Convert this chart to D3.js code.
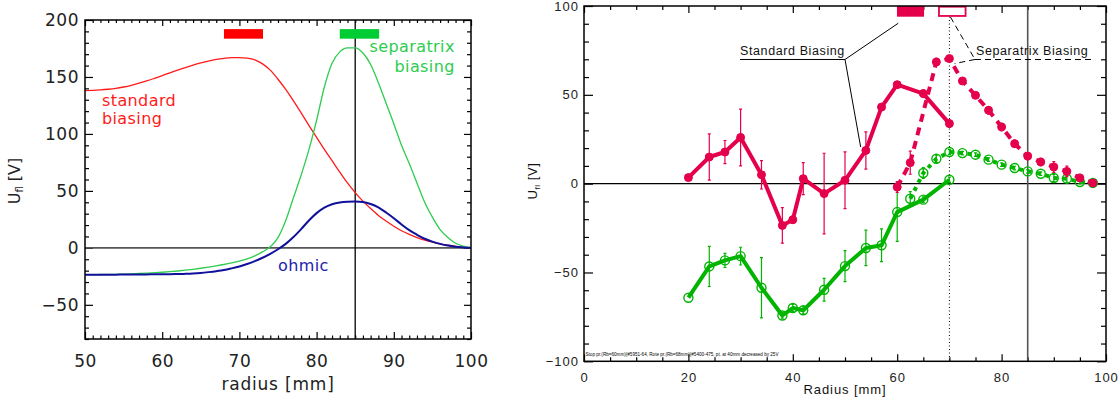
<!DOCTYPE html>
<html><head><meta charset="utf-8">
<script src="https://cdn.jsdelivr.net/npm/d3@7"></script>
<style>body{margin:0;background:#fff}svg{display:block}</style>
</head><body>
<svg id="c" width="1118" height="398"></svg>
<script>
// ---------------- LEFT PANEL DATA (model curves) ----------------
const radiusL = [50,51,52,53,54,55,56,57,58,59,60,61,62,63,64,65,66,67,68,69,70,71,72,73,74,75,76,77,78,79,80,81,82,83,84,85,86,87,88,89,90,91,92,93,94,95,96,97,98,99,100];
const standardL = [138,138.2,138.6,139.2,140,141.2,142.7,144.5,146.5,148.8,151.2,153.6,156,158.3,160.4,162.3,164,165.4,166.4,167,167,166.5,165,161.5,156,148,139,129,118.5,107.5,97,86.5,76.5,66.5,57,48.5,41,34.5,28.5,23.5,19,15,11.8,9,6.8,5,3.5,2.3,1.3,0.5,0];
const separatrixL = [-23.5,-23.5,-23.4,-23.3,-23.2,-23,-22.8,-22.5,-22.2,-21.8,-21.4,-20.9,-20.3,-19.6,-18.8,-17.9,-16.9,-15.8,-14.6,-13.2,-11.6,-9.6,-7,-3.5,1,9,24,44,64,86,112,141,162,172,175.5,175.5,171,161,145,127,109,90,74,57,40,27,16,9,4,1.5,0];
const ohmicL = [-23.5,-23.5,-23.5,-23.5,-23.5,-23.4,-23.4,-23.3,-23.3,-23.2,-23.2,-23.1,-23,-22.8,-22.5,-22,-21.3,-20.5,-19.5,-18,-16.3,-14.2,-11.7,-8.7,-5.2,-1.2,3.5,9.5,16.5,24,30.5,35.3,38.3,39.9,40.5,40.6,40.2,38.5,35.5,31,26,20.5,15.5,11.5,8,5.5,3.5,2,1,0.4,0];
const leftXTicks = [50,60,70,80,90,100];
const leftYTicks = [-50,0,50,100,150,200];
const leftBars = [{r0:68,r1:73.06,color:"#ff0000"},{r0:83,r1:88.1,color:"#00cc33"}];

// ---------------- RIGHT PANEL DATA (measurements) ----------------
const stdRadius = [20,24,27,30,34,38,40,42,46,50,54,57,60,65,70];
const stdRed    = [3.4,15,17.8,26,5,-23.5,-20.3,2.8,-5.6,1.9,18.7,43.1,55.7,50.7,33.8];
const stdRedErr = [0,13,6.5,16,8,10,2,9,22.7,16,10.5,1.5,1.5,2,2];
const stdGreen    = [-64.2,-46.6,-43.2,-40.8,-58.6,-74.2,-70,-71.3,-59.7,-46.4,-36.2,-34.7,-16,-9,2.2];
const stdGreenErr = [0,11.3,4,5,17,1.5,2,2,6.4,8.7,10,9.2,16.5,1.5,1.5];
const sepRedRadius = [60,62.5,67.5,70,72.5,75,77.5,80,82.5,85,87.5,90,92.5,95,97.5];
const sepRed    = [-1.9,11.8,68.5,70.4,57.8,49.7,41.3,31.9,22.5,15.5,12.2,9.4,6.9,3.2,0.4];
const sepRedErr = [3,6.5,2,1.5,1.5,1.5,2,2,2,2,2,3,3,2,1];
const sepGreenRadius = [62.5,65,67.5,70,72.5,75,77.5,80,82.5,85,87.5,90,92.5,95,97.5];
const sepGreen    = [-8.5,6,14,17.8,17.2,16.3,13.5,10.7,8.8,6.9,5.6,3.2,2.8,0.9,0.4];
const sepGreenErr = [4,3,2,1.5,1,1,1,1,1,1,1,2,2,1,1];
const rightXTicks = [0,20,40,60,80,100];
const rightYTicks = [-100,-50,0,50,100];

const svg = d3.select("#c");

function styleAxis(g, font, size, spacing){
  g.select(".domain").remove();
  g.attr("font-family", font).attr("font-size", size);
  g.selectAll("line").attr("stroke","#000").attr("stroke-width",1.2);
  g.selectAll("text").attr("fill","#222").attr("letter-spacing", spacing||0);
}

// ================= LEFT PANEL =================
const xL = d3.scaleLinear().domain([50,100]).range([85,471]);
const yL = d3.scaleLinear().domain([-80,200]).range([339,20]);
const LF = "DejaVu Sans";
const gL = svg.append("g");
svg.append("clipPath").attr("id","clipL").append("rect")
  .attr("x",xL(50)).attr("y",yL(200)).attr("width",xL(100)-xL(50)).attr("height",yL(-80)-yL(200));

const minorXL = d3.range(50,101,1).filter(v=>v%10!==0);
const minorYL = d3.range(-80,201,10).filter(v=>v%50!==0);
gL.append("g").attr("transform",`translate(0,${yL(-80)})`)
  .call(d3.axisBottom(xL).tickValues(leftXTicks).tickSize(-7).tickPadding(16).tickFormat(d3.format("d")))
  .call(g=>styleAxis(g,LF,17,0.5));
gL.append("g").attr("transform",`translate(0,${yL(-80)})`)
  .call(d3.axisBottom(xL).tickValues(minorXL).tickSize(-3.5).tickFormat(""))
  .call(g=>styleAxis(g,LF,17));
gL.append("g").attr("transform",`translate(0,${yL(200)})`)
  .call(d3.axisTop(xL).tickValues(leftXTicks).tickSize(-6).tickFormat(""))
  .call(g=>styleAxis(g,LF,17));
gL.append("g").attr("transform",`translate(0,${yL(200)})`)
  .call(d3.axisTop(xL).tickValues(minorXL).tickSize(-3).tickFormat(""))
  .call(g=>styleAxis(g,LF,17));
gL.append("g").attr("transform",`translate(${xL(50)},0)`)
  .call(d3.axisLeft(yL).tickValues(leftYTicks).tickSize(-8).tickPadding(6).tickFormat(d=>d<0?"\u2212"+Math.abs(d):d))
  .call(g=>styleAxis(g,LF,17,0.5));
gL.append("g").attr("transform",`translate(${xL(50)},0)`)
  .call(d3.axisLeft(yL).tickValues(minorYL).tickSize(-4).tickFormat(""))
  .call(g=>styleAxis(g,LF,17));
gL.append("g").attr("transform",`translate(${xL(100)},0)`)
  .call(d3.axisRight(yL).tickValues(leftYTicks).tickSize(-7).tickFormat(""))
  .call(g=>styleAxis(g,LF,17));
gL.append("g").attr("transform",`translate(${xL(100)},0)`)
  .call(d3.axisRight(yL).tickValues(minorYL).tickSize(-4).tickFormat(""))
  .call(g=>styleAxis(g,LF,17));

gL.append("line").attr("x1",xL(50)).attr("x2",xL(100)).attr("y1",yL(0)).attr("y2",yL(0))
  .attr("stroke","#555").attr("stroke-width",1.6);
gL.append("line").attr("x1",xL(85)).attr("x2",xL(85)).attr("y1",yL(200)).attr("y2",yL(-80))
  .attr("stroke","#000").attr("stroke-width",1.3);

const lineL = (vals)=>d3.line().x((d,i)=>xL(radiusL[i])).y(d=>yL(d)).curve(d3.curveMonotoneX)(vals);
const curves = gL.append("g").attr("clip-path","url(#clipL)");
curves.append("path").attr("d",lineL(standardL)).attr("fill","none").attr("stroke","#ff1a1a").attr("stroke-width",1.3);
curves.append("path").attr("d",lineL(separatrixL)).attr("fill","none").attr("stroke","#2ecc50").attr("stroke-width",1.3);
curves.append("path").attr("d",lineL(ohmicL)).attr("fill","none").attr("stroke","#10109a").attr("stroke-width",2);

leftBars.forEach(b=>{
  gL.append("rect").attr("x",xL(b.r0)).attr("width",xL(b.r1)-xL(b.r0))
    .attr("y",yL(192)).attr("height",yL(183.6)-yL(192)).attr("fill",b.color);
});

gL.append("rect").attr("x",xL(50)).attr("y",yL(200)).attr("width",xL(100)-xL(50)).attr("height",yL(-80)-yL(200))
  .attr("fill","none").attr("stroke","#000").attr("stroke-width",1.5);

const lt = (x,y,txt,col,anchor)=>gL.append("text").attr("x",x).attr("y",y).text(txt)
  .attr("font-family",LF).attr("font-size",16).attr("fill",col).attr("text-anchor",anchor||"start").attr("letter-spacing",0.4);
lt(xL(52.2), yL(124.5), "standard", "#ff1a1a");
lt(xL(52.2), yL(108.5), "biasing", "#ff1a1a");
lt(xL(97.9), yL(172), "separatrix", "#2ecc50", "end");
lt(xL(97.9), yL(154.5), "biasing", "#2ecc50", "end");
lt(xL(75.0), yL(-20.5), "ohmic", "#2222aa");

gL.append("text").attr("x",(xL(50)+xL(100))/2).attr("y",390).attr("text-anchor","middle")
  .attr("font-family",LF).attr("font-size",17).attr("fill","#222").attr("letter-spacing",0.8).text("radius [mm]");
const yLab = gL.append("text").attr("transform","translate(20,181) rotate(-90)").attr("text-anchor","middle")
  .attr("font-family",LF).attr("font-size",16).attr("fill","#222");
yLab.append("tspan").text("U");
yLab.append("tspan").attr("font-size",10).attr("dy",3).text("fl");
yLab.append("tspan").attr("dy",-3).text(" [V]");

// ================= RIGHT PANEL =================
const xR = d3.scaleLinear().domain([0,100]).range([584,1106]);
const yR = d3.scaleLinear().domain([-100,100]).range([361.3,6]);
const RF = "Liberation Sans";
const gR = svg.append("g");
svg.append("clipPath").attr("id","clipR").append("rect")
  .attr("x",xR(0)).attr("y",yR(100)).attr("width",xR(100)-xR(0)).attr("height",yR(-100)-yR(100));

const minorXR = d3.range(0,101,5).filter(v=>v%20!==0);
const minorYR = d3.range(-100,101,10).filter(v=>v%50!==0);
gR.append("g").attr("transform",`translate(0,${yR(-100)})`)
  .call(d3.axisBottom(xR).tickValues(rightXTicks).tickSize(-7).tickPadding(11).tickFormat(d3.format("d")))
  .call(g=>styleAxis(g,RF,13,1));
gR.append("g").attr("transform",`translate(0,${yR(-100)})`)
  .call(d3.axisBottom(xR).tickValues(minorXR).tickSize(-4).tickFormat(""))
  .call(g=>styleAxis(g,RF,13));
gR.append("g").attr("transform",`translate(0,${yR(100)})`)
  .call(d3.axisTop(xR).tickValues(rightXTicks).tickSize(-7).tickFormat(""))
  .call(g=>styleAxis(g,RF,13));
gR.append("g").attr("transform",`translate(0,${yR(100)})`)
  .call(d3.axisTop(xR).tickValues(minorXR).tickSize(-4).tickFormat(""))
  .call(g=>styleAxis(g,RF,13));
gR.append("g").attr("transform",`translate(${xR(0)},0)`)
  .call(d3.axisLeft(yR).tickValues(rightYTicks).tickSize(-9).tickPadding(5).tickFormat(d=>d<0?"\u2212"+Math.abs(d):d))
  .call(g=>styleAxis(g,RF,13,1));
gR.append("g").attr("transform",`translate(${xR(0)},0)`)
  .call(d3.axisLeft(yR).tickValues(minorYR).tickSize(-5).tickFormat(""))
  .call(g=>styleAxis(g,RF,13));
gR.append("g").attr("transform",`translate(${xR(100)},0)`)
  .call(d3.axisRight(yR).tickValues(rightYTicks).tickSize(-9).tickFormat(""))
  .call(g=>styleAxis(g,RF,13));
gR.append("g").attr("transform",`translate(${xR(100)},0)`)
  .call(d3.axisRight(yR).tickValues(minorYR).tickSize(-5).tickFormat(""))
  .call(g=>styleAxis(g,RF,13));

gR.append("line").attr("x1",xR(0)).attr("x2",xR(100)).attr("y1",yR(0)).attr("y2",yR(0))
  .attr("stroke","#000").attr("stroke-width",1.1);
gR.append("line").attr("x1",xR(85)).attr("x2",xR(85)).attr("y1",yR(100)).attr("y2",yR(-100))
  .attr("stroke","#555").attr("stroke-width",1.6);
gR.append("line").attr("x1",xR(70)).attr("x2",xR(70)).attr("y1",yR(100)).attr("y2",yR(-100))
  .attr("stroke","#000").attr("stroke-width",1).attr("stroke-dasharray","1,2.5");

const RED = "#e5004b", GREEN = "#00b400";
const dataR = gR.append("g").attr("clip-path","url(#clipR)");

function series(rs, vs, es, color, dash, filled){
  const pts = rs.map((r,i)=>({r, v:vs[i], e:es[i]}));
  const eg = dataR.append("g");
  pts.filter(p=>p.e>0).forEach(p=>{
    eg.append("line").attr("x1",xR(p.r)).attr("x2",xR(p.r)).attr("y1",yR(p.v+p.e)).attr("y2",yR(p.v-p.e))
      .attr("stroke",color).attr("stroke-width",1.2);
    [p.v+p.e,p.v-p.e].forEach(y=>eg.append("line").attr("x1",xR(p.r)-1.5).attr("x2",xR(p.r)+1.5)
      .attr("y1",yR(y)).attr("y2",yR(y)).attr("stroke",color).attr("stroke-width",1.2));
  });
  dataR.append("path").attr("d",d3.line().x(p=>xR(p.r)).y(p=>yR(p.v))(pts))
    .attr("fill","none").attr("stroke",color).attr("stroke-width",4)
    .attr("stroke-linejoin","round").attr("stroke-dasharray",dash||null);
  dataR.append("g").selectAll("circle").data(pts).join("circle")
    .attr("cx",p=>xR(p.r)).attr("cy",p=>yR(p.v)).attr("r",filled?4:4.5)
    .attr("fill",filled?color:"none").attr("stroke",color).attr("stroke-width",filled?1:1.4);
}
series(stdRadius, stdGreen, stdGreenErr, GREEN, null, false);
series(sepGreenRadius, sepGreen, sepGreenErr, GREEN, "4,5", false);
series(stdRadius, stdRed, stdRedErr, RED, null, true);
series(sepRedRadius, sepRed, sepRedErr, RED, "8,6", true);

gR.append("rect").attr("x",xR(60.1)).attr("y",yR(99.6)).attr("width",xR(65)-xR(60.1)).attr("height",yR(94.4)-yR(99.6))
  .attr("fill",RED).attr("stroke",RED).attr("stroke-width",1.5);
gR.append("rect").attr("x",xR(68)).attr("y",yR(99.6)).attr("width",xR(73.1)-xR(68)).attr("height",yR(94.4)-yR(99.6))
  .attr("fill","#fff").attr("stroke",RED).attr("stroke-width",1.8);

const at = (r,v,txt)=>gR.append("text").attr("x",xR(r)).attr("y",yR(v)).text(txt)
  .attr("font-family",RF).attr("font-size",12.5).attr("fill","#111").attr("letter-spacing",0.6);
at(29.9, 72.6, "Standard Biasing");
at(75.1, 72.6, "Separatrix Biasing");
const ln = (r1,v1,r2,v2,dash)=>gR.append("line").attr("x1",xR(r1)).attr("y1",yR(v1)).attr("x2",xR(r2)).attr("y2",yR(v2))
  .attr("stroke","#000").attr("stroke-width",1).attr("stroke-dasharray",dash||null);
ln(29.9,69.9,50,69.9);
ln(50,69.9,60.2,90.3);
ln(50,69.9,53,20.6);
ln(74.9,69.9,97.8,69.9,"6,4");
ln(70.2,93.8,74.9,69.9,"6,4");
ln(74.9,69.9,71.0,67.6,"6,4");

gR.append("rect").attr("x",xR(0)).attr("y",yR(100)).attr("width",xR(100)-xR(0)).attr("height",yR(-100)-yR(100))
  .attr("fill","none").attr("stroke","#000").attr("stroke-width",1.5);

gR.append("text").attr("x",xR(0)+1.5).attr("y",yR(-97)).attr("font-family",RF).attr("font-size",4.5)
  .attr("textLength",193).attr("lengthAdjust","spacingAndGlyphs").attr("fill","#000")
  .text("Stop pr.(Rb=60mm)(#5951-64, Rote pr.(Rb=68mm)(#5400-475, pt. at 40mm decreased by 25V");

gR.append("text").attr("x",(xR(0)+xR(100))/2).attr("y",394).attr("text-anchor","middle")
  .attr("font-family",RF).attr("font-size",13).attr("fill","#111").attr("letter-spacing",0.9).text("Radius [mm]");
const yLabR = gR.append("text").attr("transform","translate(537,181) rotate(-90)").attr("text-anchor","middle")
  .attr("font-family",RF).attr("font-size",13).attr("fill","#111").attr("letter-spacing",0.6);
yLabR.append("tspan").text("U");
yLabR.append("tspan").attr("font-size",8).attr("dy",3).text("fl");
yLabR.append("tspan").attr("dy",-3).text(" [V]");
</script>
</body></html>
